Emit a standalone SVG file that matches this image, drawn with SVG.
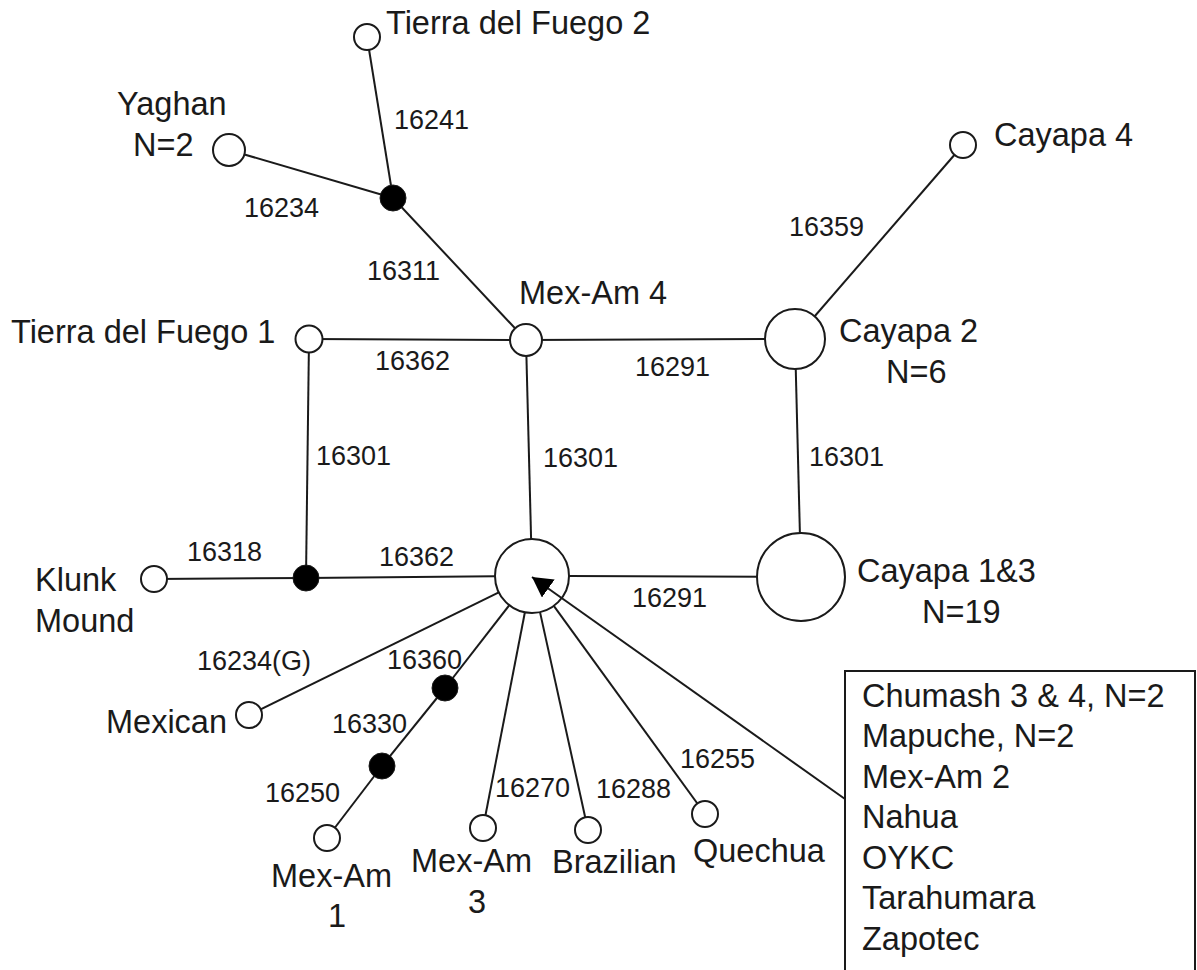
<svg xmlns="http://www.w3.org/2000/svg" width="1197" height="970" viewBox="0 0 1197 970">
<style>
  .edge { stroke: #1a1a1a; stroke-width: 2; fill: none; }
  .node { fill: #ffffff; stroke: #1a1a1a; stroke-width: 2; }
  .hub { fill: none; stroke: #1a1a1a; stroke-width: 2; }
  .mv { fill: #000000; stroke: #1a1a1a; stroke-width: 1; }
  .lbl { font-family: "Liberation Sans", Arial, sans-serif; font-size: 32.5px; fill: #1a1a1a; }
  .num { font-family: "Liberation Sans", Arial, sans-serif; font-size: 27px; fill: #1a1a1a; }
  .box { fill: #ffffff; stroke: #1a1a1a; stroke-width: 2; }
</style>
<defs>
  <marker id="arrow" viewBox="0 0 20 22" refX="20" refY="11" markerWidth="20" markerHeight="22" markerUnits="userSpaceOnUse" orient="auto">
    <path d="M0,0 L20,11 L0,22 z" fill="#000000"/>
  </marker>
</defs>
<rect width="1197" height="970" fill="#ffffff"/>

<g id="legend-box">
  <rect class="box" x="845" y="671" width="350" height="320"/>
  <text class="lbl" x="862" y="707">Chumash 3 &amp; 4, N=2</text>
  <text class="lbl" x="862" y="747">Mapuche, N=2</text>
  <text class="lbl" x="862" y="788">Mex-Am 2</text>
  <text class="lbl" x="862" y="828">Nahua</text>
  <text class="lbl" x="862" y="869">OYKC</text>
  <text class="lbl" x="862" y="909">Tarahumara</text>
  <text class="lbl" x="862" y="950">Zapotec</text>
</g>

<g id="connectors">
  <line class="edge" x1="367" y1="37" x2="393" y2="198"/>
  <line class="edge" x1="229" y1="150" x2="393" y2="198"/>
  <line class="edge" x1="393" y1="198" x2="526" y2="340"/>
  <line class="edge" x1="309" y1="339" x2="526" y2="340"/>
  <line class="edge" x1="526" y1="340" x2="795" y2="339"/>
  <line class="edge" x1="795" y1="339" x2="963" y2="145"/>
  <line class="edge" x1="309" y1="339" x2="306" y2="578"/>
  <line class="edge" x1="795" y1="339" x2="801" y2="577"/>
  <line class="edge" x1="154" y1="579" x2="306" y2="578"/>
  <line class="edge" x1="526" y1="340" x2="531.1" y2="539"/>
  <line class="edge" x1="306" y1="578" x2="495" y2="576.3"/>
  <line class="edge" x1="569" y1="576.1" x2="801" y2="577"/>
  <line class="edge" x1="498.8" y1="592.3" x2="249" y2="715"/>
  <line class="edge" x1="509.3" y1="605.2" x2="445" y2="688"/>
  <line class="edge" x1="445" y1="688" x2="382" y2="766"/>
  <line class="edge" x1="382" y1="766" x2="327" y2="838"/>
  <line class="edge" x1="524.9" y1="612.3" x2="483" y2="828"/>
  <line class="edge" x1="540" y1="612.1" x2="588" y2="830"/>
  <line class="edge" x1="553.8" y1="605.9" x2="705" y2="814"/>
  <line class="edge" x1="845" y1="799" x2="532" y2="577" marker-end="url(#arrow)"/>
  <text class="num" x="394" y="129">16241</text>
  <text class="num" x="244" y="217">16234</text>
  <text class="num" x="367" y="280">16311</text>
  <text class="num" x="375" y="370">16362</text>
  <text class="num" x="635" y="376">16291</text>
  <text class="num" x="789" y="236">16359</text>
  <text class="num" x="316" y="465">16301</text>
  <text class="num" x="543" y="467">16301</text>
  <text class="num" x="809" y="466">16301</text>
  <text class="num" x="187" y="561">16318</text>
  <text class="num" x="379" y="566">16362</text>
  <text class="num" x="632" y="607">16291</text>
  <text class="num" x="197" y="670">16234(G)</text>
  <text class="num" x="387" y="669">16360</text>
  <text class="num" x="332" y="733">16330</text>
  <text class="num" x="265" y="802">16250</text>
  <text class="num" x="495" y="797">16270</text>
  <text class="num" x="596" y="798">16288</text>
  <text class="num" x="680" y="768">16255</text>
</g>

<g id="node-tdf2">
  <circle class="node" cx="367" cy="37" r="13"/>
  <text class="lbl" x="386" y="34">Tierra del Fuego 2</text>
</g>
<g id="node-yaghan">
  <circle class="node" cx="229" cy="150" r="16"/>
  <text class="lbl" x="117" y="115">Yaghan</text>
  <text class="lbl" x="133" y="156">N=2</text>
</g>
<g id="node-mv1">
  <circle class="mv" cx="393" cy="198" r="13"/>
</g>
<g id="node-mexam4">
  <circle class="node" cx="526" cy="340" r="16"/>
  <text class="lbl" x="519" y="304">Mex-Am 4</text>
</g>
<g id="node-tdf1">
  <circle class="node" cx="309" cy="339" r="13.5"/>
  <text class="lbl" x="11" y="343">Tierra del Fuego 1</text>
</g>
<g id="node-cayapa2">
  <circle class="node" cx="795" cy="339" r="30"/>
  <text class="lbl" x="839" y="342">Cayapa 2</text>
  <text class="lbl" x="886" y="383">N=6</text>
</g>
<g id="node-cayapa4">
  <circle class="node" cx="963" cy="145" r="13"/>
  <text class="lbl" x="994" y="146">Cayapa 4</text>
</g>
<g id="node-hub">
  <circle class="hub" cx="532" cy="576" r="37"/>
</g>
<g id="node-cayapa13">
  <circle class="node" cx="801" cy="577" r="44"/>
  <text class="lbl" x="857" y="582">Cayapa 1&amp;3</text>
  <text class="lbl" x="922" y="623">N=19</text>
</g>
<g id="node-mv2">
  <circle class="mv" cx="306" cy="578" r="13"/>
</g>
<g id="node-klunk">
  <circle class="node" cx="154" cy="579" r="13"/>
  <text class="lbl" x="35" y="591">Klunk</text>
  <text class="lbl" x="35" y="632">Mound</text>
</g>
<g id="node-mexican">
  <circle class="node" cx="249" cy="715" r="13"/>
  <text class="lbl" x="106" y="733">Mexican</text>
</g>
<g id="node-mv3">
  <circle class="mv" cx="445" cy="688" r="13"/>
</g>
<g id="node-mv4">
  <circle class="mv" cx="382" cy="766" r="13"/>
</g>
<g id="node-mexam1">
  <circle class="node" cx="327" cy="838" r="13"/>
  <text class="lbl" x="271" y="887">Mex-Am</text>
  <text class="lbl" x="328" y="927">1</text>
</g>
<g id="node-mexam3">
  <circle class="node" cx="483" cy="828" r="13"/>
  <text class="lbl" x="411" y="872">Mex-Am</text>
  <text class="lbl" x="468" y="913">3</text>
</g>
<g id="node-brazilian">
  <circle class="node" cx="588" cy="830" r="13"/>
  <text class="lbl" x="552" y="873">Brazilian</text>
</g>
<g id="node-quechua">
  <circle class="node" cx="705" cy="814" r="13"/>
  <text class="lbl" x="693" y="862">Quechua</text>
</g>
</svg>
